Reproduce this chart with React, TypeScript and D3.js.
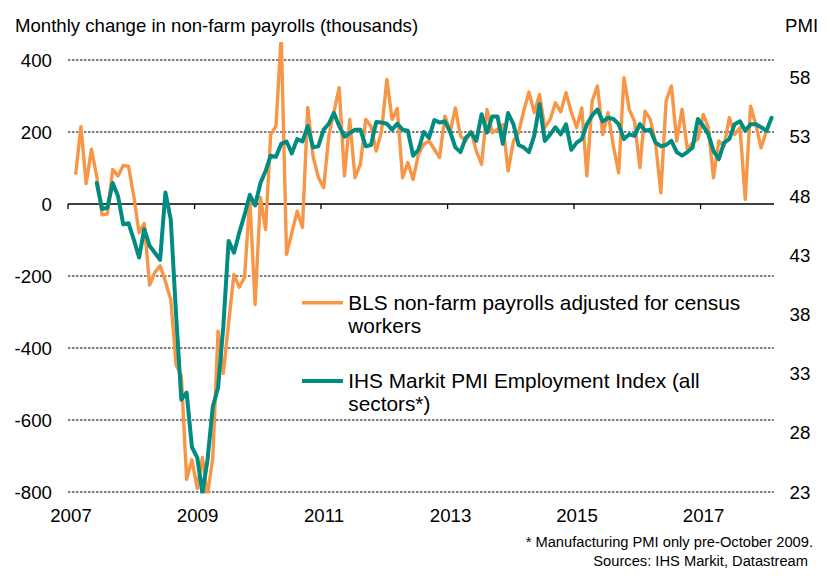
import React from 'react';
import * as d3 from 'd3';

// Monthly change in non-farm payrolls (thousands), Feb 2007 - Jan 2018
const payrollStart = { year: 2007, month: 1 };
const payrolls = [
  85, 215, 57, 152, 77, -30, -28, 96, 78, 107, 105,
  20, -80, -54, -225, -190, -172, -215, -265, -446, -478, -765, -710,
  -790, -704, -810, -705, -353, -470, -330, -196, -231, -204, 15, -279,
  18, -71, 193, 216, 470, -140, -80, -20, -65, 268, 133, 74,
  45, 189, 255, 323, 78, 235, 73, 110, 235, 216, 147, 202,
  346, 235, 265, 73, 115, 68, 138, 166, 175, 152, 129, 244,
  202, 267, 189, 175, 202, 147, 110, 263, 198, 207, 221, 92,
  175, 198, 258, 311, 254, 304, 212, 235, 281, 256, 309, 255,
  212, 267, 78, 286, 328, 193, 254, 161, 87, 351, 263, 230,
  101, 258, 235, 170, 31, 286, 328, 175, 263, 152, 170, 180,
  249, 212, 73, 175, 161, 240, 193, 212, 13, 272, 221, 156,
  203,
];

// IHS Markit PMI Employment Index, Jun 2007 - Feb 2018
const pmiStart = { year: 2007, month: 5 };
const pmi = [
  49.1, 46.9, 47.0, 49.1, 48.0, 45.6, 45.7,
  44.3, 42.8, 45.2, 43.8, 43.2, 42.6, 48.3, 46.0, 38.0, 30.8, 31.4, 26.8,
  25.9, 22.9, 25.7, 30.2, 31.8, 37.0, 44.2, 43.2, 44.9, 46.4, 48.1, 47.2,
  49.1, 50.1, 51.4, 51.3, 52.4, 52.6, 51.6, 52.8, 52.6, 53.9, 52.1, 52.2,
  53.6, 54.1, 55.0, 53.9, 53.0, 53.3, 53.6, 53.6, 52.2, 52.3, 54.25, 54.2,
  54.1, 53.6, 54.1, 53.6, 53.5, 51.4, 51.9, 53.4, 52.9, 54.4, 54.2, 54.3,
  53.4, 52.1, 51.7, 52.9, 53.35, 52.65, 54.9, 53.35, 54.7, 54.7, 52.4, 55.0,
  54.05, 52.3, 52.1, 51.7, 53.1, 55.75, 52.65, 53.2, 53.8, 53.2, 54.05, 51.9,
  52.5, 52.8, 54.06, 54.8, 55.3, 54.3, 54.6, 54.5, 54.06, 52.8, 53.2, 53.07,
  54.06, 53.5, 53.6, 52.5, 52.2, 52.3, 52.65, 51.7, 51.4, 51.7, 52.1, 54.5,
  53.9, 53.2, 51.8, 51.1, 52.5, 52.8, 54.06, 54.3, 53.5, 54.06, 54.06, 53.8,
  53.5, 54.6,
];

const yearTicks = [2007, 2009, 2011, 2013, 2015, 2017];
const leftTicks = [400, 200, 0, -200, -400, -600, -800];
const rightTicks = [58, 53, 48, 43, 38, 33, 28, 23];

const ORANGE = '#F79646';
const TEAL = '#008C80';
const FONT = '"Liberation Sans", Arial, sans-serif';

const W = 830;
const H = 585;
const plot = { left: 68, right: 774, top: 42, bottom: 492 };

type Pt = { date: Date; value: number };

const toSeries = (start: { year: number; month: number }, values: number[]): Pt[] =>
  values.map((value, k) => ({ date: new Date(Date.UTC(start.year, start.month + k, 1)), value }));

const App: React.FC = () => {
  const x = d3.scaleUtc()
    .domain([new Date(Date.UTC(2007, 0, 1)), new Date(Date.UTC(2018, 2, 1))])
    .range([plot.left, plot.right]);
  const yL = d3.scaleLinear().domain([-800, 450]).range([plot.bottom, plot.top]);
  const yR = d3.scaleLinear().domain([23, 61]).range([plot.bottom, plot.top]);

  // points sit in the middle of their month
  const midX = (d: Date) => (x(d) + x(d3.utcMonth.offset(d, 1))) / 2;

  const payrollLine = d3.line<Pt>().x(d => midX(d.date)).y(d => yL(d.value));
  const pmiLine = d3.line<Pt>().x(d => midX(d.date)).y(d => yR(d.value));

  const zeroY = yL(0);

  return (
    <svg width={W} height={H} style={{ position: 'absolute', left: 0, top: 0, background: '#fff' }}
      fontFamily={FONT}>
      <defs>
        <clipPath id="plot-clip">
          <rect x={plot.left} y={plot.top} width={plot.right - plot.left} height={plot.bottom - plot.top + 1.5} />
        </clipPath>
      </defs>

      {/* gridlines */}
      {leftTicks.filter(t => t !== 0).map(t => (
        <line key={t} x1={plot.left} x2={plot.right} y1={yL(t)} y2={yL(t)}
          stroke="#000" strokeWidth={1} strokeDasharray="2.5,1.5" />
      ))}

      {/* x axis on zero line */}
      <line x1={plot.left} x2={plot.right} y1={zeroY} y2={zeroY} stroke="#000" strokeWidth={1.3} />
      {yearTicks.map(yr => {
        const tx = x(new Date(Date.UTC(yr, 0, 1)));
        return (
          <g key={yr}>
            <line x1={tx} x2={tx} y1={zeroY} y2={zeroY + 5} stroke="#000" strokeWidth={1.3} />
            <text x={tx + 3} y={522} textAnchor="middle" fontSize={18.7} fill="#000">{yr}</text>
          </g>
        );
      })}

      {/* left axis labels */}
      {leftTicks.map(t => (
        <text key={t} x={52} y={yL(t) + 6.7} textAnchor="end" fontSize={18.7} fill="#000">{t}</text>
      ))}
      {/* right axis labels */}
      {rightTicks.map(t => (
        <text key={t} x={800} y={yR(t) + 6.7} textAnchor="middle" fontSize={18.7} fill="#000">{t}</text>
      ))}

      <text x={15} y={32} fontSize={18.6} fill="#000">Monthly change in non-farm payrolls (thousands)</text>
      <text x={785} y={32} fontSize={18.6} fill="#000">PMI</text>

      {/* series */}
      <g clipPath="url(#plot-clip)">
        <path d={payrollLine(toSeries(payrollStart, payrolls)) || ''} fill="none" stroke={ORANGE}
          strokeWidth={3.4} strokeLinejoin="round" strokeLinecap="round" />
        <path d={pmiLine(toSeries(pmiStart, pmi)) || ''} fill="none" stroke={TEAL}
          strokeWidth={4} strokeLinejoin="round" strokeLinecap="round" />
      </g>

      {/* legend */}
      <line x1={302} x2={343} y1={302.7} y2={302.7} stroke={ORANGE} strokeWidth={3.4} />
      <text x={348.3} y={310} fontSize={20.8} fill="#000">BLS non-farm payrolls adjusted for census</text>
      <text x={348.3} y={333.3} fontSize={20.8} fill="#000">workers</text>
      <line x1={302} x2={343} y1={381} y2={381} stroke={TEAL} strokeWidth={4} />
      <text x={348.3} y={388.3} fontSize={20.8} fill="#000">IHS Markit PMI Employment Index (all</text>
      <text x={348.3} y={411.3} fontSize={20.8} fill="#000">sectors*)</text>

      {/* footnote */}
      <text x={813} y={546.7} textAnchor="end" fontSize={14.7} fill="#000">* Manufacturing PMI only pre-October 2009.</text>
      <text x={808} y={566} textAnchor="end" fontSize={14.7} fill="#000">Sources: IHS Markit, Datastream</text>
    </svg>
  );
};

export default App;
